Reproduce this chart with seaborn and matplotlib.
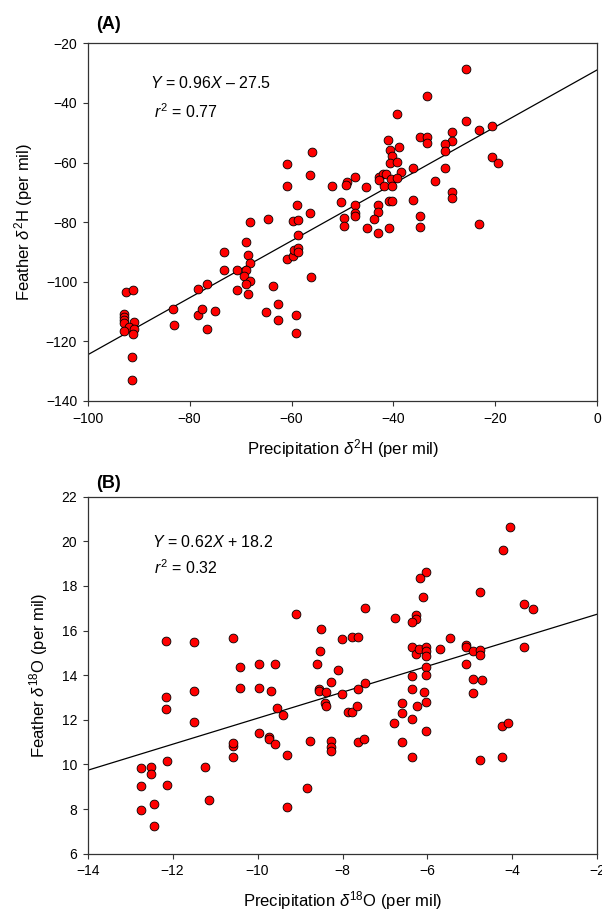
import numpy as np
import pandas as pd
import matplotlib
matplotlib.use("Agg")
import matplotlib.pyplot as plt
import seaborn as sns

# Panel A: precipitation vs feather d2H (per mil)
precip_h = [-25.7, -33.5, -39.3, -25.7, -23.2, -20.7, -28.5, -28.5, -34.7, -33.5,
            -33.5, -29.9, -29.9, -41.1, -40.7, -38.9, -40.3, -40.7, -39.3, -55.9,
            -60.8, -56.4, -20.7, -19.4, -29.9, -36.1, -38.5, -42.9, -42.1, -41.4,
            -40.4, -39.3, -42.8, -41.9, -40.3, -60.8, -47.6, -49.1, -49.4, -52.0,
            -45.3, -31.9, -28.5, -28.5,
            -50.3, -47.6, -47.6, -47.5, -49.7, -49.7, -45.2, -43.0, -43.0, -43.8,
            -43.0, -40.8, -40.9, -40.3, -36.1, -34.7, -34.7, -23.2, -58.9, -56.4,
            -59.7, -58.8, -58.8, -64.7, -68.1, -68.9, -73.2, -68.6, -68.1, -73.3,
            -70.7, -68.9, -69.3, -68.1, -68.9, -68.6, -70.7, -60.8, -59.7, -59.5,
            -58.8, -58.8, -56.1, -63.7, -62.6, -65.0, -62.6, -59.1, -59.1, -78.3,
            -76.6, -83.2, -83.0, -78.4, -77.5, -75.0, -76.6, -92.4, -91.2, -92.8,
            -92.8, -92.8, -92.8, -90.9, -91.9, -90.9, -92.8, -91.2, -91.4, -91.4]
feather_h = [-28.6, -37.8, -43.7, -46.2, -49.2, -47.9, -49.9, -52.9, -51.5, -51.5,
             -53.3, -53.8, -56.1, -52.3, -55.8, -54.8, -57.7, -60.0, -59.8, -56.4,
             -60.4, -64.2, -58.0, -60.3, -62.0, -61.8, -63.1, -65.0, -63.8, -64.0,
             -65.5, -65.2, -65.8, -67.9, -67.9, -67.9, -65.0, -66.7, -67.7, -67.9,
             -68.3, -66.2, -69.8, -71.8,
             -73.3, -74.3, -77.0, -78.1, -78.7, -81.2, -82.0, -74.3, -76.5, -78.8,
             -83.5, -82.1, -73.0, -73.0, -72.5, -77.9, -81.5, -80.7, -74.4, -76.9,
             -79.7, -79.4, -84.4, -79.1, -79.9, -86.7, -89.9, -91.0, -93.6, -96.0,
             -96.0, -96.1, -98.1, -99.7, -100.9, -104.2, -102.8, -92.2, -91.2, -89.5,
             -88.8, -90.0, -98.5, -101.5, -107.5, -110.1, -112.8, -111.0, -117.3, -102.4,
             -100.6, -109.2, -114.5, -111.2, -109.1, -109.7, -116.0, -103.4, -102.8, -110.9,
             -111.8, -112.9, -113.8, -113.6, -115.2, -115.8, -116.4, -117.5, -125.3, -132.8]

# Panel B: precipitation vs feather d18O (per mil)
precip_o = [-4.06, -4.22, -6.03, -6.17, -6.11, -4.76, -3.73, -3.51, -7.48, -9.09,
            -8.51, -6.77, -6.27, -6.27, -6.37, -12.16, -11.49, -10.58, -8.01, -7.78,
            -7.63, -5.48, -12.16, -12.16, -11.49, -11.49, -12.14, -12.14, -12.74, -12.51,
            -12.51, -12.74, -12.43, -12.75, -12.44, -11.23, -11.15, -10.59, -10.59, -10.59,
            -10.42, -10.42, -9.96, -9.96, -9.96, -9.60, -9.69, -9.55, -9.39, -9.73,
            -9.73, -9.60, -9.30, -9.30, -8.84, -8.76, -8.61, -8.54, -8.55, -8.55,
            -8.40, -8.41, -8.39, -8.26, -8.10, -8.01, -8.26, -8.26, -8.26, -7.88,
            -7.77, -7.67, -7.63, -7.48, -7.64, -7.49, -6.78, -6.60, -6.60, -6.60,
            -6.37, -6.37, -6.37, -6.37, -6.37, -6.27, -6.19, -6.03, -6.03, -6.03,
            -6.03, -6.03, -6.03, -6.03, -6.09, -6.24, -5.70, -5.09, -5.09, -5.09,
            -4.92, -4.76, -4.76, -4.92, -4.71, -4.92, -4.76, -4.25, -4.11, -4.25,
            -3.73]
feather_o = [20.63, 19.60, 18.63, 18.34, 17.49, 17.72, 17.18, 16.97, 17.03, 16.73,
             16.07, 16.58, 16.70, 16.52, 16.39, 15.51, 15.48, 15.67, 15.64, 15.69,
             15.70, 15.66, 13.03, 12.48, 13.30, 11.92, 10.16, 9.08, 9.85, 9.90,
             9.55, 9.04, 8.24, 7.95, 7.26, 9.90, 8.41, 10.32, 10.83, 10.95,
             14.35, 13.44, 14.51, 13.44, 11.41, 14.51, 13.30, 12.53, 12.21, 11.25,
             11.13, 10.90, 10.44, 8.09, 8.94, 11.05, 14.51, 15.09, 13.39, 13.29,
             13.26, 12.77, 12.60, 13.68, 14.24, 13.17, 11.07, 10.80, 10.60, 12.33,
             12.33, 12.60, 13.36, 13.63, 11.02, 11.14, 11.84, 12.74, 12.29, 11.02,
             10.32, 12.05, 13.38, 13.96, 15.24, 14.94, 15.17, 15.24, 15.08, 14.85,
             14.38, 13.99, 12.81, 11.48, 13.26, 12.62, 15.17, 15.34, 15.24, 14.51,
             15.09, 15.14, 14.91, 13.85, 13.78, 13.18, 10.22, 11.71, 11.86, 10.32,
             15.28]

# regression lines as drawn (slope, intercept)
line_a = (0.956, -28.9)
line_b = (0.583, 17.9)

sns.set_style("ticks")
plt.rcParams['font.family'] = ['Liberation Sans', 'DejaVu Sans']
plt.rcParams['mathtext.fontset'] = 'custom'
plt.rcParams['mathtext.rm'] = 'Liberation Sans'
plt.rcParams['mathtext.it'] = 'Liberation Sans:italic'
plt.rcParams['mathtext.bf'] = 'Liberation Sans:bold'
plt.rcParams['text.color'] = 'black'
plt.rcParams['axes.labelcolor'] = 'black'
plt.rcParams['xtick.labelcolor'] = 'black'
plt.rcParams['ytick.labelcolor'] = 'black'

fig = plt.figure(figsize=(6.02, 9.13), dpi=100)
ax_a = fig.add_axes([0.1457, 0.5608, 0.8465, 0.3918])
ax_b = fig.add_axes([0.1457, 0.0650, 0.8465, 0.3910])


def draw_panel(ax, x, y, line, xlim, ylim, xticks, yticks, xlab, ylab, eq, r2, eq_pos, r2_pos):
    df = pd.DataFrame({'x': x, 'y': y})
    xs = np.array(xlim)
    fit = pd.DataFrame({'x': xs, 'y': line[0] * xs + line[1]})
    sns.lineplot(data=fit, x='x', y='y', ax=ax, color='black', linewidth=0.9)
    sns.scatterplot(data=df, x='x', y='y', ax=ax, color='#ff0000', edgecolor='black',
                    linewidth=0.6, s=40, zorder=3)
    ax.set_xlim(xlim)
    ax.set_ylim(ylim)
    ax.set_xticks(xticks)
    ax.set_yticks(yticks)
    ax.set_xlabel(xlab, fontsize=12, labelpad=8)
    ax.set_ylabel(ylab, fontsize=12, labelpad=8)
    ax.tick_params(labelsize=10, length=3.6, width=0.8, pad=4, color='#333333')
    for sp in ax.spines.values():
        sp.set_visible(True)
        sp.set_linewidth(0.9)
        sp.set_color('#333333')
    ax.text(eq_pos[0], eq_pos[1], eq, transform=ax.transAxes, fontsize=11.5, va='center')
    ax.text(r2_pos[0], r2_pos[1], r'$r^{2}$ = ' + r2, transform=ax.transAxes,
            fontsize=11.5, va='center')


draw_panel(ax_a, precip_h, feather_h, line_a, (-100, 0), (-140, -20),
           range(-100, 1, 20), range(-140, -19, 20),
           r'Precipitation $\delta^{2}$H (per mil)', r'Feather $\delta^{2}$H (per mil)',
           r'$Y$ = 0.96$X$ – 27.5', '0.77', (0.122, 0.89), (0.13, 0.808))
draw_panel(ax_b, precip_o, feather_o, line_b, (-14, -2), (6, 22),
           range(-14, -1, 2), range(6, 23, 2),
           r'Precipitation $\delta^{18}$O (per mil)', r'Feather $\delta^{18}$O (per mil)',
           r'$Y$ = 0.62$X$ + 18.2', '0.32', (0.127, 0.872), (0.13, 0.80))

fig.text(0.16, 0.9737, '(A)', fontsize=13, fontweight='bold', va='center')
fig.text(0.16, 0.4706, '(B)', fontsize=13, fontweight='bold', va='center')

fig.savefig('out.png', dpi=100)
